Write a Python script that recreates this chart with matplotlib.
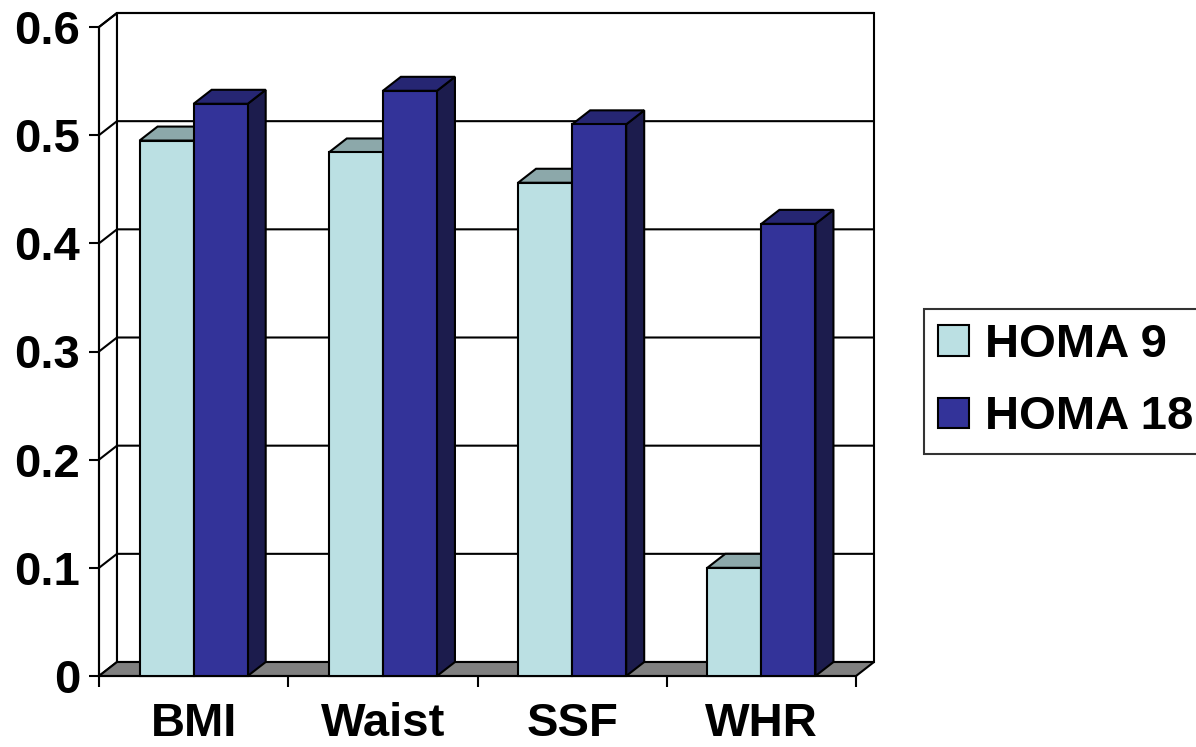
"""
3-D style clustered column chart: HOMA 9 vs HOMA 18 by adiposity measure.
"""

import matplotlib
matplotlib.use("Agg")
import matplotlib.pyplot as plt
from matplotlib.patches import Polygon, Patch

plt.rcParams['font.family'] = ['Liberation Sans', 'DejaVu Sans']
plt.rcParams['font.weight'] = 'bold'

categories = ['BMI', 'Waist', 'SSF', 'WHR']
homa9 = [0.495, 0.484, 0.456, 0.100]
homa18 = [0.529, 0.541, 0.510, 0.418]
series_names = ['HOMA 9', 'HOMA 18']
y_ticks = [0, 0.1, 0.2, 0.3, 0.4, 0.5, 0.6]
y_labels = ['0', '0.1', '0.2', '0.3', '0.4', '0.5', '0.6']

# face colours: front, top, side
COLS = [('#BBE0E3', '#8CA8AA', '#5E7072'),
        ('#333399', '#262673', '#1C1C4D')]
FLOOR = '#808080'
LW = 1.5
FS = 34

W, H = 1196, 747
fig = plt.figure(figsize=(W / 100, H / 100), dpi=100)
ax = fig.add_axes([99 / W, (H - 676) / H, 757 / W, 649 / H])
ax.set_xlim(0, 4)
ax.set_ylim(0, 0.6)

# depth offset of the 3-D box, in data units
DX = 18 / 189.25
DY = 14 / 1081.7
YMAX = 0.6
N = len(categories)

def poly(pts, fc, z):
    ax.add_patch(Polygon(pts, closed=True, facecolor=fc, edgecolor='black',
                         linewidth=LW, clip_on=False, zorder=z,
                         joinstyle='miter'))

def line(xs, ys, z=1.5):
    ax.plot(xs, ys, color='black', lw=LW, clip_on=False, zorder=z,
            solid_capstyle='butt')

# side wall and back wall
poly([(0, 0), (DX, DY), (DX, YMAX + DY), (0, YMAX)], 'white', 1)
poly([(DX, DY), (N + DX, DY), (N + DX, YMAX + DY), (DX, YMAX + DY)], 'white', 1)
for v in y_ticks[1:]:
    line([0, DX, N + DX], [v, v + DY, v + DY])

# floor
poly([(0, 0), (N, 0), (N + DX, DY), (DX, DY)], FLOOR, 2)

# columns
bw = 1 / 3.5
for s, vals in enumerate([homa9, homa18]):
    front, top, side = COLS[s]
    for i, v in enumerate(vals):
        x0 = i + 0.5 - bw + s * bw
        x1 = x0 + bw
        poly([(x1, 0), (x1 + DX, DY), (x1 + DX, v + DY), (x1, v)], side, 3 + s)
        poly([(x0, v), (x1, v), (x1 + DX, v + DY), (x0 + DX, v + DY)], top, 3 + s)
    xs = [i + 0.5 - bw + s * bw for i in range(N)]
    ax.bar(xs, vals, width=bw, align='edge', color=front, edgecolor='black',
           linewidth=LW, clip_on=False, zorder=3 + s)

# axes
for sp in ['top', 'right']:
    ax.spines[sp].set_visible(False)
for sp in ['left', 'bottom']:
    ax.spines[sp].set_linewidth(LW)
    ax.spines[sp].set_zorder(2.5)

ax.set_yticks(y_ticks)
ax.set_yticklabels(y_labels, fontsize=FS, fontweight='bold')
ax.tick_params(axis='y', direction='out', length=7.5, width=LW, pad=6)

ax.set_xticks(range(N + 1))
ax.set_xticklabels([''] * (N + 1))
ax.tick_params(axis='x', which='major', direction='out', length=8, width=LW)
ax.set_xticks([i + 0.5 for i in range(N)], minor=True)
ax.set_xticklabels(categories, minor=True, fontsize=FS, fontweight='bold')
ax.tick_params(axis='x', which='minor', length=0, pad=19)

handles = [Patch(facecolor=COLS[k][0], edgecolor='black', linewidth=LW)
           for k in range(2)]
leg = fig.legend(handles, series_names, loc='upper left',
                 bbox_to_anchor=(924 / W, 1 - 309 / H),
                 prop={'weight': 'bold', 'size': FS},
                 frameon=True, fancybox=False, borderaxespad=0,
                 handlelength=0.65, handleheight=0.62, handletextpad=0.35,
                 labelspacing=0.6, borderpad=0.3)
leg.get_frame().set_edgecolor('black')
leg.get_frame().set_linewidth(LW)

fig.savefig('out.png', dpi=100)
